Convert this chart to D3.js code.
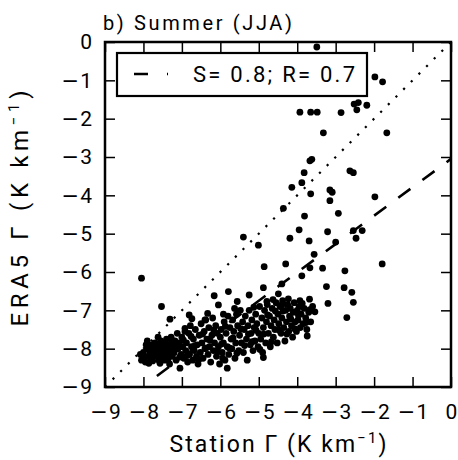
<!DOCTYPE html>
<html><head><meta charset="utf-8">
<script src="https://cdn.jsdelivr.net/npm/d3@7"></script>
<style>
html,body{margin:0;padding:0;background:#fff;}
text{font-family:Roboto, "DejaVu Sans", sans-serif;fill:#000;}
</style></head>
<body>
<svg id="chart" width="458" height="460"></svg>
<script>
const title = "b) Summer (JJA)";
const xTicks = [-9,-8,-7,-6,-5,-4,-3,-2,-1,0];
const yTicks = [-9,-8,-7,-6,-5,-4,-3,-2,-1,0];
const legendLabel = "S= 0.8; R= 0.7";
const regSlope = 0.74, regIntercept = -3.05, regXStart = -7.65, regXEnd = 0;

// Station lapse rate (x) vs ERA5 lapse rate (y)
const outliers = [
[-3.49,-0.13],[-1.98,-0.91],[-1.78,-1.04],[-3.93,-1.83],[-3.65,-1.83],[-3.48,-1.83],[-2.86,-1.84],
[-2.52,-1.62],[-2.41,-1.58],[-2.45,-1.77],[-2.19,-1.65],[-3.32,-2.37],[-1.67,-2.37],[-3.62,-3.06],
[-3.67,-3.1],[-3.82,-3.41],[-2.63,-3.36],[-2.54,-3.41],[-3.88,-3.67],[-4.14,-3.79],[-3.65,-3.96],
[-3.15,-3.86],[-3.09,-3.92],[-3.15,-4.14],[-1.98,-4.04],[-4.36,-4.34],[-2.93,-4.47],[-3.81,-4.54],
[-3.95,-4.9],[-3.21,-4.95],[-2.54,-4.92],[-2.31,-4.92],[-4.19,-5.12],[-2.47,-5.12],[-5.4,-5.09],
[-3.69,-5.19],[-3.0,-5.22],[-5.01,-5.3],[-3.56,-5.54],[-4.86,-5.86],[-4.3,-5.79],[-3.67,-5.89],
[-3.34,-5.9],[-2.76,-5.97],[-1.79,-5.79],[-3.88,-6.1],[-2.78,-6.41],[-2.58,-6.53],[-2.54,-6.79],
[-3.2,-6.82],[-2.71,-7.19],[-8.05,-6.16],[-7.53,-6.9],[-7.31,-7.23],[-6.81,-7.12],[-6.16,-6.62],
[-6.05,-6.86],[-5.79,-6.51],[-5.25,-6.6],[-5.56,-6.77],[-4.88,-6.41],[-4.4,-6.31],[-4.49,-6.57],
[-3.24,-6.38],[-3.68,-6.71],[-3.54,-7.04],[-4.79,-6.77],[-4.4,-6.86],[-3.74,-7.67],[-4.88,-8.23],
[-5.82,-8.51],[-5.94,-8.25],[-7.05,-8.51],[-6.4,-7.25],[-6.92,-7.47],[-5.92,-7.1]
];
const cluster = [
[-8.05,-8.3],[-8.0,-8.1],[-7.95,-8.35],[-7.9,-8.0],[-7.88,-8.2],[-7.85,-7.95],[-7.82,-8.1],[-7.8,-8.3],
[-7.78,-7.9],[-7.75,-8.05],[-7.72,-8.2],[-7.7,-7.85],[-7.68,-8.0],[-7.65,-8.15],[-7.62,-7.95],[-7.6,-8.3],
[-7.58,-8.05],[-7.55,-7.8],[-7.52,-8.2],[-7.5,-7.95],
[-7.48,-8.1],[-7.46,-7.85],[-7.44,-8.3],[-7.42,-8.0],[-7.4,-7.75],[-7.38,-8.15],[-7.35,-7.9],[-7.32,-8.4],
[-7.3,-8.05],[-7.28,-7.7],[-7.25,-8.2],[-7.22,-7.95],
[-7.2,-8.1],[-7.18,-7.8],[-7.15,-8.3],[-7.12,-7.6],[-7.1,-8.0],[-7.08,-7.85],[-7.02,-8.15],[-7.0,-7.7],
[-6.98,-7.95],[-6.95,-8.25],[-6.92,-7.55],
[-6.9,-8.05],[-6.88,-7.85],[-6.85,-8.35],[-6.82,-7.6],[-6.8,-8.15],[-6.78,-7.4],[-6.75,-7.95],[-6.72,-8.3],
[-6.7,-7.75],[-6.68,-8.05],[-6.65,-7.5],[-6.62,-8.2],
[-6.6,-7.9],[-6.58,-8.4],[-6.55,-7.65],[-6.52,-8.1],[-6.5,-7.35],[-6.48,-7.85],[-6.45,-8.25],[-6.42,-7.55],
[-6.4,-8.0],[-6.38,-7.25],[-6.35,-7.75],[-6.32,-8.15],
[-6.3,-7.45],[-6.28,-7.95],[-6.25,-8.35],[-6.22,-7.65],[-6.2,-7.2],[-6.18,-8.05],[-6.15,-7.85],[-6.12,-7.4],
[-6.1,-8.2],[-6.08,-7.6],[-6.05,-7.95],[-6.02,-8.4],
[-6.0,-7.7],[-5.98,-7.5],[-5.95,-8.1],[-5.92,-7.85],[-5.9,-7.3],[-5.88,-8.3],[-5.85,-7.6],[-5.82,-7.95],
[-5.8,-7.15],[-5.78,-8.15],[-5.75,-7.45],[-5.72,-7.75],
[-5.7,-8.0],[-5.68,-7.25],[-5.65,-7.55],[-5.62,-8.25],[-5.6,-7.85],[-5.58,-7.1],[-5.55,-7.4],[-5.52,-8.05],
[-5.5,-7.65],[-5.48,-7.0],[-5.45,-7.85],[-5.42,-7.3],
[-5.4,-8.1],[-5.38,-7.5],[-5.35,-7.15],[-5.32,-7.75],[-5.3,-8.3],[-5.28,-7.4],[-5.25,-7.0],[-5.22,-7.9],
[-5.2,-7.6],[-5.18,-7.25],[-5.15,-8.05],[-5.12,-7.45],
[-5.1,-7.8],[-5.08,-7.1],[-5.05,-7.35],[-5.02,-7.95],[-5.0,-7.6],[-4.98,-6.9],[-4.95,-7.75],[-4.92,-7.2],
[-4.9,-8.1],[-4.88,-7.45],[-4.85,-7.0],[-4.82,-7.85],
[-4.8,-7.3],[-4.78,-6.85],[-4.75,-7.6],[-4.72,-7.15],[-4.7,-7.95],[-4.68,-7.4],[-4.65,-6.95],[-4.62,-7.7],
[-4.6,-7.25],[-4.58,-7.5],[-4.55,-6.8],[-4.52,-7.85],
[-4.5,-7.1],[-4.48,-7.35],[-4.45,-6.9],[-4.42,-7.6],[-4.4,-7.2],[-4.38,-6.75],[-4.35,-7.45],[-4.32,-7.8],
[-4.3,-7.0],[-4.28,-7.3],[-4.25,-6.85],[-4.22,-7.55],
[-4.2,-7.15],[-4.18,-6.95],[-4.15,-7.4],[-4.12,-7.7],[-4.1,-7.05],[-4.08,-6.8],[-4.05,-7.3],[-4.02,-7.55],
[-4.0,-7.0],[-3.98,-7.25],[-3.95,-6.9],[-3.92,-7.45],
[-3.9,-7.1],[-3.85,-7.35],[-3.82,-6.95],[-3.78,-7.2],[-3.75,-7.5],[-3.7,-7.05],[-3.65,-7.3],[-3.6,-6.9]
];
const clusterExtra = [
[-8.08,-8.15],[-7.97,-8.25],[-7.93,-7.9],[-7.86,-8.38],[-7.76,-8.32],[-7.66,-7.88],[-7.57,-8.38],[-7.47,-7.92],
[-7.36,-8.27],[-7.27,-7.83],[-7.16,-7.98],[-7.06,-8.22],[-6.96,-7.78],[-6.86,-8.18],[-6.76,-7.68],[-6.66,-7.92],
[-6.56,-8.28],[-6.46,-7.62],[-6.37,-7.98],[-6.27,-7.78],[-6.17,-7.52],[-6.07,-8.08],[-5.97,-7.88],[-5.87,-7.42],
[-5.77,-7.98],[-5.67,-7.72],[-5.57,-8.12],[-5.47,-7.48],[-5.37,-7.92],[-5.27,-7.62],[-5.17,-7.82],[-5.07,-7.52],
[-4.97,-8.02],[-4.87,-7.62],[-4.77,-7.12],[-4.67,-7.82],[-4.57,-7.02],[-4.47,-7.52],[-4.37,-7.02],[-4.27,-7.62],
[-4.17,-7.22],[-4.07,-7.48],[-3.97,-7.12],[-3.87,-6.82],[-3.77,-7.32],[-3.67,-6.98],[-6.74,-7.22],[-6.33,-7.08],
[-5.63,-6.95],[-5.13,-6.92],[-4.63,-6.72],[-4.23,-6.7],[-3.93,-6.75],[-7.62,-7.7],[-7.9,-7.8]
];

const svg = d3.select("#chart");
const L = 105, R = 451, T = 42, B = 387;
const x = d3.scaleLinear().domain([-9,0]).range([L,R]);
const y = d3.scaleLinear().domain([-9,0]).range([B,T]);

svg.append("defs").append("clipPath").attr("id","clip")
  .append("rect").attr("x",L).attr("y",T).attr("width",R-L).attr("height",B-T);

// 1:1 dotted line
svg.append("line").attr("clip-path","url(#clip)")
  .attr("x1",x(-9)).attr("y1",y(-9)).attr("x2",x(0)).attr("y2",y(0))
  .attr("stroke","#000").attr("stroke-width",2.2).attr("stroke-dasharray","2.2,8.6");

// points
svg.append("g").attr("clip-path","url(#clip)").selectAll("circle")
  .data(cluster.concat(clusterExtra, outliers)).join("circle")
  .attr("cx",d=>x(d[0])).attr("cy",d=>y(d[1])).attr("r",3.4).attr("fill","#000");

// regression dashed line
svg.append("line").attr("clip-path","url(#clip)")
  .attr("x1",x(regXStart)).attr("y1",y(regIntercept+regSlope*regXStart))
  .attr("x2",x(regXEnd)).attr("y2",y(regIntercept+regSlope*regXEnd))
  .attr("stroke","#000").attr("stroke-width",2.6).attr("stroke-dasharray","15,15");

// tick label with wide minus sign
function styleTickText(sel){
  sel.each(function(d){
    const t = d3.select(this);
    t.text(null).style("font-family","Roboto").style("font-size","21px").attr("fill","#000");
    if (d < 0) {
      t.append("tspan").style("font-family","'DejaVu Sans'").style("font-size","21px").text("\u2212");
      t.append("tspan").attr("dx",1).text(Math.abs(d));
    } else {
      t.append("tspan").text(d);
    }
  });
}

const tl = 10;
svg.append("g").attr("transform",`translate(0,${B})`)
  .call(d3.axisBottom(x).tickValues(xTicks).tickSize(-tl).tickPadding(17))
  .call(g=>g.select(".domain").remove())
  .call(g=>g.selectAll(".tick text").call(styleTickText));
svg.append("g").attr("transform",`translate(0,${T})`)
  .call(d3.axisTop(x).tickValues(xTicks).tickSize(-tl).tickFormat(""))
  .call(g=>g.select(".domain").remove());
svg.append("g").attr("transform",`translate(${L},0)`)
  .call(d3.axisLeft(y).tickValues(yTicks).tickSize(-tl).tickPadding(13))
  .call(g=>g.select(".domain").remove())
  .call(g=>g.selectAll(".tick text").call(styleTickText));
svg.append("g").attr("transform",`translate(${R},0)`)
  .call(d3.axisRight(y).tickValues(yTicks).tickSize(-tl).tickFormat(""))
  .call(g=>g.select(".domain").remove());
svg.selectAll(".tick line").attr("stroke","#000").attr("stroke-width",1.5);

// frame
svg.append("rect").attr("x",L).attr("y",T).attr("width",R-L).attr("height",B-T)
  .attr("fill","none").attr("stroke","#000").attr("stroke-width",2.5);

// legend
svg.append("rect").attr("x",117).attr("y",53).attr("width",250).attr("height",43)
  .attr("fill","#fff").attr("stroke","#000").attr("stroke-width",2.2);
svg.append("line").attr("x1",134).attr("y1",74).attr("x2",168).attr("y2",74)
  .attr("stroke","#000").attr("stroke-width",2.6).attr("stroke-dasharray","14,19");
svg.append("text").attr("x",193).attr("y",82).style("font-size","22px")
  .attr("textLength",162).text(legendLabel);

// title
svg.append("text").attr("x",103).attr("y",30).style("font-size","20px")
  .attr("textLength",189).text(title);

// axis labels
const xl = svg.append("text").attr("x",(L+R)/2).attr("y",452).attr("text-anchor","middle").style("font-size","23px");
xl.append("tspan").text("Station \u0393 (K km");
xl.append("tspan").attr("dy",-9).style("font-size","15px").text("\u22121");
xl.append("tspan").attr("dy",9).text(")");
xl.attr("textLength",217);
const yl = svg.append("text").attr("transform",`translate(28,${(T+B)/2 - 6}) rotate(-90)`).attr("text-anchor","middle").style("font-size","24px");
yl.append("tspan").text("ERA5 \u0393 (K km");
yl.append("tspan").attr("dy",-9).style("font-size","15px").text("\u22121");
yl.append("tspan").attr("dy",9).text(")");
yl.attr("textLength",236);
</script>
</body></html>
